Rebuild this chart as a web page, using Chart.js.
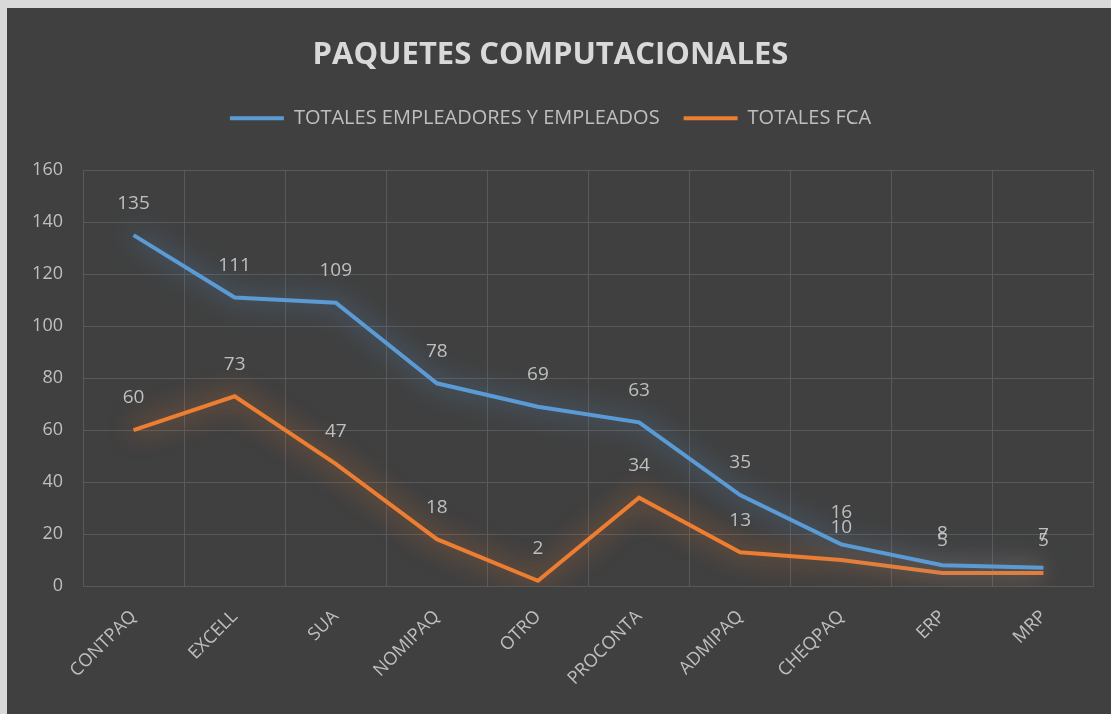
<!DOCTYPE html>
<html>
<head>
<meta charset="utf-8">
<script src="https://cdn.jsdelivr.net/npm/chart.js@4.4.1/dist/chart.umd.min.js"></script>
<style>
    body { margin: 0; background: #d9d9d9; }
    #frame {
        position: absolute;
        left: 7px;
        top: 8px;
        width: 1104px;
        height: 706px;
        background: #404040;
    }
</style>
</head>
<body>
<div id="frame"><canvas id="chart" width="1104" height="706"></canvas></div>
<script>
// Chart data
const categories = ['CONTPAQ', 'EXCELL', 'SUA', 'NOMIPAQ', 'OTRO', 'PROCONTA', 'ADMIPAQ', 'CHEQPAQ', 'ERP', 'MRP'];
const empleadores = [135, 111, 109, 78, 69, 63, 35, 16, 8, 7];
const fca = [60, 73, 47, 18, 2, 34, 13, 10, 5, 5];
const seriesNames = ['TOTALES EMPLEADORES Y EMPLEADOS', 'TOTALES FCA'];
const yTicks = [0, 20, 40, 60, 80, 100, 120, 140, 160];

const blue = '#5b9bd5';
const orange = '#ed7d31';
const textColor = '#bfbfbf';
const baseFont = "'Open Sans', 'DejaVu Sans', sans-serif";

// Soft glow round each line, like the Excel effect
const glowPlugin = {
    id: 'glow',
    beforeDatasetDraw(chart, args) {
        const ctx = chart.ctx;
        ctx.save();
        ctx.shadowColor = args.index === 0 ? 'rgba(91, 155, 213, 0.9)' : 'rgba(237, 125, 49, 0.9)';
        ctx.shadowBlur = 26;
    },
    afterDatasetDraw(chart) {
        chart.ctx.restore();
    }
};

// Value labels above each point
const valueLabels = {
    id: 'valueLabels',
    afterDatasetsDraw(chart) {
        const ctx = chart.ctx;
        ctx.save();
        ctx.font = "19px " + baseFont;
        ctx.fillStyle = textColor;
        ctx.textAlign = 'center';
        ctx.textBaseline = 'middle';
        chart.data.datasets.forEach((ds, i) => {
            const meta = chart.getDatasetMeta(i);
            meta.data.forEach((pt, j) => {
                ctx.fillText(String(ds.data[j]), pt.x, pt.y - 32);
            });
        });
        ctx.restore();
    }
};

// Extra room between legend and plot
const legendGap = {
    id: 'legendGap',
    beforeInit(chart) {
        const fit = chart.legend.fit;
        chart.legend.fit = function () {
            fit.bind(chart.legend)();
            this.height += 32;
        };
    }
};

new Chart(document.getElementById('chart'), {
    type: 'line',
    data: {
        labels: categories,
        datasets: [
            {
                label: seriesNames[0],
                data: empleadores,
                borderColor: blue,
                backgroundColor: blue,
                borderWidth: 4,
                pointRadius: 0,
                tension: 0
            },
            {
                label: seriesNames[1],
                data: fca,
                borderColor: orange,
                backgroundColor: orange,
                borderWidth: 4,
                pointRadius: 0,
                tension: 0
            }
        ]
    },
    options: {
        responsive: false,
        animation: false,
        layout: { padding: { left: 0, right: 17, top: 0, bottom: 0 } },
        plugins: {
            title: {
                display: true,
                text: 'PAQUETES COMPUTACIONALES',
                color: '#d9d9d9',
                font: { family: baseFont, size: 31, weight: 'bold' },
                padding: { top: 29, bottom: 10 }
            },
            legend: {
                position: 'top',
                labels: {
                    color: textColor,
                    font: { family: baseFont, size: 20 },
                    boxWidth: 54,
                    boxHeight: 4,
                    padding: 24,
                    generateLabels(chart) {
                        return chart.data.datasets.map((ds, i) => ({
                            text: ds.label,
                            fillStyle: ds.borderColor,
                            strokeStyle: ds.borderColor,
                            lineWidth: 0,
                            fontColor: textColor,
                            datasetIndex: i
                        }));
                    }
                }
            },
            tooltip: { enabled: false }
        },
        scales: {
            x: {
                offset: true,
                grid: { color: '#595959', offset: true, drawTicks: false },
                border: { display: false },
                ticks: {
                    color: textColor,
                    font: { family: baseFont, size: 18 },
                    maxRotation: 45,
                    minRotation: 45,
                    padding: 20
                },
                afterFit(scale) { scale.height = 128; }
            },
            y: {
                min: 0,
                max: 160,
                afterBuildTicks(scale) {
                    scale.ticks = yTicks.map(v => ({ value: v }));
                },
                grid: { color: '#595959', drawTicks: false },
                border: { display: false },
                ticks: {
                    color: textColor,
                    font: { family: baseFont, size: 18 },
                    padding: 20
                },
                afterFit(scale) { scale.width = 76; }
            }
        }
    },
    plugins: [glowPlugin, valueLabels, legendGap]
});
</script>
</body>
</html>
